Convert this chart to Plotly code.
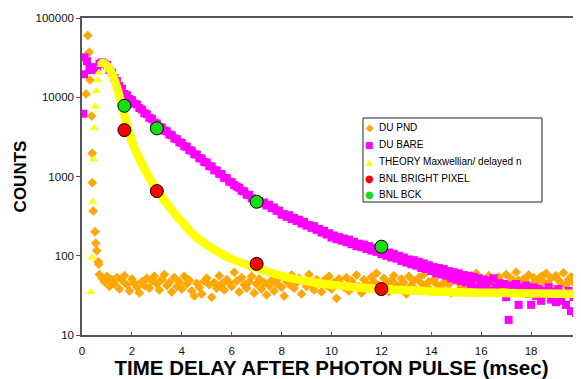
import numpy as np
import plotly.graph_objects as go

# ---------------- DATA ----------------
# DU PND (orange diamonds): early spike + flat background
pnd_early_t = [0.16, 0.23, 0.29, 0.32, 0.39, 0.41, 0.41, 0.45, 0.52, 0.55, 0.59, 0.65, 0.67]
pnd_early_y = [11000, 60000, 37000, 16500, 5800, 1960, 835, 367, 201, 144, 116, 84, 78]
pnd_bg_t = np.round(np.arange(0.7, 20.001, 0.1), 2)
pnd_bg_y = [
    58, 52, 47, 55, 41, 50, 44, 53, 38, 49,
    56, 43, 36, 51, 45, 40, 34, 47, 42, 52,
    39, 48, 55, 44, 37, 50, 58, 42, 46, 35,
    53, 41, 47, 38, 55, 44, 49, 36, 31, 45,
    40, 33, 48, 52, 43, 30, 46, 39, 56, 44,
    37, 50, 45, 41, 62, 48, 35, 53, 43, 39,
    47, 55, 34, 44, 51, 38, 46, 32, 42, 49,
    36, 45, 53, 40, 31, 48, 44, 57, 39, 46,
    52, 33, 47, 41, 58, 43, 37, 50, 45, 35,
    49, 42, 55, 38, 46, 29, 51, 44, 40, 53,
    36, 48, 43, 57, 41, 34, 50, 45, 39, 54,
    47, 60, 42, 38, 52, 44, 35, 49, 56, 43,
    40, 51, 46, 33, 55, 42, 48, 37, 53, 45,
    58, 41, 47, 36, 50, 44, 62, 39, 46, 52,
    43, 34, 49, 57, 45, 40, 53, 47, 38, 55,
    48, 60, 42, 51, 37, 46, 56, 44, 50, 41,
    54, 47, 39, 58, 45, 52, 43, 62, 49, 36,
    51, 46, 57, 42, 53, 48, 40, 55, 47, 60,
    44, 52, 38, 56, 49, 45, 61, 43, 50, 54,
    46, 58, 41, 52,
]

# DU BARE (magenta squares)
bare_early_t = [0.05, 0.08]
bare_early_y = [6200, 19500]
bare_t = np.round(np.arange(0.1, 20.001, 0.1), 2)
bare_y = [
    32000, 28500, 24000, 22000, 23000, 24000, 26500, 27500, 26500, 25500,
    22000, 20500, 17500, 16000, 13800, 12800, 11000, 10600, 9500, 9200,
    8300, 8100, 7300, 7000, 6300, 6100, 5500, 5350, 4800, 4650,
    4200, 4150, 3780, 3720, 3380, 3320, 3020, 2960, 2700, 2650,
    2400, 2380, 2150, 2120, 1910, 1890, 1700, 1690, 1520, 1500,
    1350, 1340, 1200, 1190, 1080, 1070, 960, 955, 860, 850,
    780, 745, 720, 660, 650, 590, 585, 530, 515, 490,
    490, 455, 470, 430, 440, 400, 405, 370, 370, 330,
    335, 310, 325, 290, 300, 275, 285, 255, 268, 240,
    245, 225, 236, 212, 218, 196, 206, 185, 192, 170,
    180, 162, 172, 155, 165, 148, 160, 140, 150, 132,
    142, 128, 138, 122, 132, 116, 126, 112, 120, 105,
    112, 100, 110, 95, 106, 92, 100, 86, 95, 82,
    90, 78, 88, 75, 84, 70, 80, 68, 76, 64,
    72, 60, 70, 58, 68, 56, 64, 52, 62, 50,
    60, 48, 57, 46, 56, 44, 54, 40, 52, 42,
    50, 38, 48, 36, 52, 40, 45, 34, 44, 30,
    15.5, 42, 36, 44, 24, 40, 35, 42, 33, 24,
    40, 31, 38, 27, 36, 33, 40, 28, 35, 26,
    38, 27, 33, 24, 36, 20, 30, 19, 34, 28,
]

# THEORY Maxwellian / delayed n (yellow triangles)
theory_t = [0.35, 0.40, 0.43, 0.46, 0.49, 0.53, 0.57, 0.63, 0.68, 0.75, 0.8, 0.9, 1.0,
            1.2, 1.4, 1.6, 1.8, 2.0, 2.2, 2.4, 2.6, 2.8, 3.0, 3.2, 3.4, 3.6, 3.8, 4.0,
            4.3, 4.6, 5.0, 5.5, 6.0, 6.5, 7.0, 7.5, 8.0, 8.5, 9.0, 9.5, 10, 11, 12,
            13, 14, 15, 16, 17, 18, 19, 20]
theory_y = [35, 95, 480, 1650, 4100, 7600, 12000, 16500, 20500, 25500, 27000, 26500, 25000,
            20000, 13500, 7900, 4500, 2800, 1950, 1450, 1100, 850, 675, 550, 455, 380, 316, 270,
            210, 170, 138, 110, 91, 79, 70, 62, 56, 51, 48, 45, 43, 40, 38,
            36.7, 35.5, 34.7, 34.2, 33.9, 33.5, 33.2, 33]

# BNL measurements
bright_t = [1.7, 3.0, 7.0, 12.0]
bright_y = [3850, 655, 79, 38]
bck_t = [1.7, 3.0, 7.0, 12.0]
bck_y = [7800, 4050, 480, 130]

series_names = ["DU PND", "DU BARE", "THEORY Maxwellian/ delayed n", "BNL BRIGHT PIXEL", "BNL BCK"]
x_ticks = [0, 2, 4, 6, 8, 10, 12, 14, 16, 18, 20]
y_ticks = [10, 100, 1000, 10000, 100000]

# ---------------- FIGURE ----------------
# page body has an 8px margin; figure is sized so the window shows it like the reference
OFF = 8
W, H = 581 - OFF, 379 - OFF
ML, MR, MT, MB = 82 - OFF, 0, 18 - OFF, 44
PW, PH = W - ML - MR, H - MT - MB

ORANGE, MAGENTA, YELLOW, RED, GREEN = "#FFA800", "#FF00FF", "#FFFF00", "#FF0000", "#11E011"
FONT = "Liberation Sans, Arial, sans-serif"

fig = go.Figure()

fig.add_trace(go.Scatter(
    x=list(pnd_early_t) + list(pnd_bg_t), y=pnd_early_y + pnd_bg_y,
    mode="markers", name=series_names[0],
    marker=dict(symbol="diamond", size=7, color=ORANGE, line=dict(color="#F59A00", width=0.5)),
))
fig.add_trace(go.Scatter(
    x=bare_early_t + list(bare_t), y=bare_early_y + bare_y,
    mode="markers", name=series_names[1],
    marker=dict(symbol="square", size=8, color=MAGENTA, line=dict(width=0)),
))
n0 = theory_t.index(0.75)
fig.add_trace(go.Scatter(
    x=theory_t[n0:], y=theory_y[n0:], mode="lines", name=series_names[2],
    line=dict(color=YELLOW, width=8.5, shape="spline", smoothing=0.6),
    hoverinfo="skip",
))
fig.add_trace(go.Scatter(
    x=theory_t, y=theory_y, mode="markers", name=series_names[2],
    marker=dict(symbol="triangle-up", size=8, color=YELLOW, line=dict(width=0)),
))
fig.add_trace(go.Scatter(
    x=bright_t, y=bright_y, mode="markers", name=series_names[3],
    marker=dict(symbol="circle", size=13, color=RED, line=dict(color="#000000", width=1)),
))
fig.add_trace(go.Scatter(
    x=bck_t, y=bck_y, mode="markers", name=series_names[4],
    marker=dict(symbol="circle", size=13, color=GREEN, line=dict(color="#000000", width=1)),
))


def px(xw):  # window x -> paper fraction
    return (xw - OFF - ML) / PW


def py(yw):  # window y -> paper fraction
    return (H - MB - (yw - OFF)) / PH


# compact Excel-style legend box
shapes = [dict(type="rect", xref="paper", yref="paper", layer="above",
               x0=px(363), x1=px(542), y0=py(202), y1=py(118),
               line=dict(color="#222222", width=1), fillcolor="white")]
glyphs = [("\u25C6", ORANGE, 10), ("\u25A0", MAGENTA, 9), ("\u25B2", YELLOW, 9),
          ("\u25CF", RED, 10), ("\u25CF", GREEN, 10)]
item_y = [127.5, 144.5, 161.5, 178, 194.5]
annotations = []
for name, (g, col, gs), yw in zip(series_names, glyphs, item_y):
    annotations.append(dict(xref="paper", yref="paper", x=px(369.5), y=py(yw),
                            text=g, showarrow=False, xanchor="center", yanchor="middle",
                            font=dict(family="DejaVu Sans", size=gs, color=col)))
    annotations.append(dict(xref="paper", yref="paper", x=px(377), y=py(yw),
                            text=name, showarrow=False, xanchor="left", yanchor="middle",
                            font=dict(family=FONT, size=10, color="#000000")))

axis_font = dict(family=FONT, size=11.5, color="#111111")

fig.update_layout(
    width=W, height=H,
    margin=dict(l=ML, r=MR, t=MT, b=MB, pad=0, autoexpand=False),
    paper_bgcolor="white", plot_bgcolor="white",
    font=dict(family=FONT, color="#000000"),
    showlegend=False,
    shapes=shapes, annotations=annotations,
    xaxis=dict(
        range=[0, 20], tickmode="array",
        tickvals=x_ticks, ticktext=[str(v) for v in x_ticks],
        showgrid=False, zeroline=False,
        showline=True, linecolor="#555555", linewidth=1.5, mirror=True,
        ticks="inside", ticklen=3, tickcolor="#555555",
        tickfont=axis_font, ticklabeloverflow="allow", ticklabelstandoff=4,
        title=dict(text="<b>TIME DELAY AFTER PHOTON PULSE (msec)</b>",
                   font=dict(family=FONT, size=20.5, color="#000000"), standoff=3),
    ),
    yaxis=dict(
        type="log", range=[1, 5],
        tickvals=y_ticks, ticktext=[str(v) for v in y_ticks],
        showgrid=False, zeroline=False,
        showline=True, linecolor="#555555", linewidth=1.5, mirror=True,
        ticks="outside", ticklen=4, tickcolor="#555555",
        tickfont=axis_font,
        title=dict(text="<b>COUNTS</b>", font=dict(family=FONT, size=17, color="#000000"),
                   standoff=5),
    ),
)

fig.write_html("out.html")
